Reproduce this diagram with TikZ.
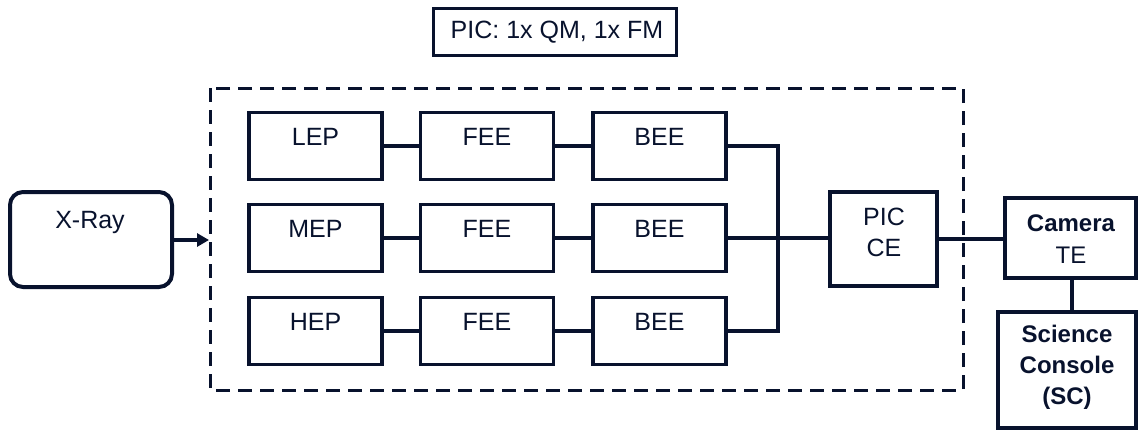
\documentclass[tikz,border=0pt]{standalone}
\usepackage{fontspec}
\setmainfont{Liberation Sans}
\usetikzlibrary{calc,arrows.meta}
\definecolor{navy}{RGB}{8,18,45}
\begin{document}
\begin{tikzpicture}[x=1pt,y=-1pt,
  box/.style={draw=navy,line width=3.2pt,minimum width=133pt,minimum height=67pt,inner sep=0pt},
  txt/.style={text=navy,font=\fontsize{25}{28}\selectfont,inner sep=0pt,align=center},
  btxt/.style={text=navy,font=\bfseries\fontsize{24}{31}\selectfont,inner sep=0pt,align=center},
  conn/.style={draw=navy,line width=3.8pt},
  heavy/.style={draw=navy,line width=4.6pt,inner sep=0pt}]
\useasboundingbox (0,0) rectangle (1138,432);
% title box
\node[draw=navy,line width=3pt,minimum width=243pt,minimum height=47pt,inner sep=0pt] (title) at (554.5,31.5) {};
\node[txt] (titleT) at (557,32) {PIC: 1x QM, 1x FM};
% dashed enclosure
\draw[navy,line width=3pt,dash pattern=on 14pt off 8pt] (210,88) rectangle (963,390);
\coordinate (dl) at (209,240);
% X-Ray
\node[draw=navy,line width=4pt,rounded corners=13pt,minimum width=162pt,minimum height=95pt,inner sep=0pt] (xray) at (91,239.5) {};
\node[txt] (xrayT) at (90,222) {X-Ray};
\draw[conn,-{Triangle[length=12pt,width=13pt]}] (xray.east |- dl) -- (dl);
% rows
\foreach \n/\y in {1/146,2/238,3/331}{
  \node[box] (ep\n) at (315.5,\y) {};
  \node[box] (fee\n) at (487,\y) {};
  \node[box] (bee\n) at (659.5,\y) {};
  \node[txt] (fee\n T) at ($(fee\n.center)+(0,-9.5)$) {FEE};
  \node[txt] (bee\n T) at ($(bee\n.center)+(0,-9.5)$) {BEE};
  \draw[conn] (ep\n) -- (fee\n);
  \draw[conn] (fee\n) -- (bee\n);
}
\node[txt] (lepT) at ($(ep1.center)+(0,-9.5)$) {LEP};
\node[txt] (mepT) at ($(ep2.center)+(0,-9.5)$) {MEP};
\node[txt] (hepT) at ($(ep3.center)+(0,-9.5)$) {HEP};
% PIC CE
\node[box,minimum width=107pt,minimum height=94pt] (picce) at (883.5,239) {};
\node[txt,font=\fontsize{25}{31}\selectfont] (picceT) at (884,232.5) {PIC\\CE};
\coordinate (jt) at (778,146);
\coordinate (jb) at (778,331);
\draw[conn] (bee1.east) -- (jt) -- (jb) -- (bee3.east);
\draw[conn] (bee2.east) -- (bee2.east -| picce.west);
% Camera TE and Science Console
\node[heavy,draw,minimum width=131pt,minimum height=80pt] (cam) at (1070.5,238) {};
\node[btxt] (camT) at (1071,239) {Camera\\[1pt]\mdseries TE};
\node[heavy,draw,minimum width=138pt,minimum height=116pt] (sci) at (1067,370) {};
\node[btxt] (sciT) at (1067,367) {Science\\Console\\(SC)};
\draw[conn] (picce.east) -- (picce.east -| cam.west);
\draw[conn] (cam.south -| 1072,0) -- (sci.north -| 1072,0);
\end{tikzpicture}
\end{document}
